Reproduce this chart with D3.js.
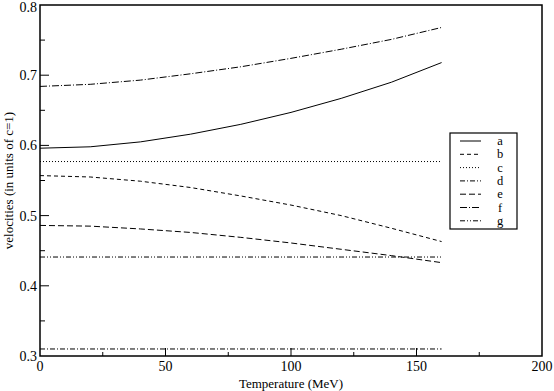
<!DOCTYPE html>
<html><head><meta charset="utf-8">
<script src="https://cdn.jsdelivr.net/npm/d3@7"></script>
<style>body{margin:0;background:#fff}svg{display:block}text{font-family:"Liberation Serif","Times New Roman",serif;fill:#000}</style>
</head><body><svg id="c" width="554" height="391"></svg>
<script>
const temps = [0, 20, 40, 60, 80, 100, 120, 140, 160];
const seriesNames = ["a", "b", "c", "d", "e", "f", "g"];
const aVals = [0.596, 0.598, 0.605, 0.616, 0.630, 0.647, 0.667, 0.690, 0.718];
const bVals = [0.557, 0.555, 0.549, 0.540, 0.528, 0.515, 0.500, 0.482, 0.463];
const cVals = [0.577, 0.577, 0.577, 0.577, 0.577, 0.577, 0.577, 0.577, 0.577];
const dVals = [0.310, 0.310, 0.310, 0.310, 0.310, 0.310, 0.310, 0.310, 0.310];
const eVals = [0.486, 0.485, 0.481, 0.476, 0.469, 0.461, 0.452, 0.443, 0.433];
const fVals = [0.684, 0.687, 0.693, 0.702, 0.712, 0.724, 0.737, 0.751, 0.768];
const gVals = [0.441, 0.441, 0.441, 0.441, 0.441, 0.441, 0.441, 0.441, 0.441];
const xTicks = [0, 50, 100, 150, 200];
const yTicks = [0.3, 0.4, 0.5, 0.6, 0.7, 0.8];
const xLabel = "Temperature (MeV)";
const yLabel = "velocities (in units of c=1)";

const dashes = {a:null, b:"4,3", c:"1,2", d:"5,2,1,2", e:"6,3", f:"7,2,1,2", g:"5,2,1,2,1,2"};
const allVals = [aVals,bVals,cVals,dVals,eVals,fVals,gVals];

const svg = d3.select("#c");
const L=40, R=542, T=5, B=356;
const x = d3.scaleLinear().domain([0,200]).range([L,R]);
const y = d3.scaleLinear().domain([0.3,0.8]).range([B,T]);

// frame
svg.append("rect").attr("x",L).attr("y",T).attr("width",R-L).attr("height",B-T)
  .attr("fill","none").attr("stroke","#000").attr("stroke-width",1.5);

// ticks
const minorX = d3.range(25,200,50), minorY = d3.range(0.35,0.8,0.1);
xTicks.forEach(v=>{ if(v>0&&v<200) svg.append("line").attr("x1",x(v)).attr("x2",x(v)).attr("y1",B).attr("y2",B-8).attr("stroke","#000");});
minorX.forEach(v=>svg.append("line").attr("x1",x(v)).attr("x2",x(v)).attr("y1",B).attr("y2",B-4).attr("stroke","#000"));
yTicks.forEach(v=>{ if(v>0.3&&v<0.8) svg.append("line").attr("x1",L).attr("x2",L+9).attr("y1",y(v)).attr("y2",y(v)).attr("stroke","#000");});
minorY.forEach(v=>svg.append("line").attr("x1",L).attr("x2",L+5).attr("y1",y(v)).attr("y2",y(v)).attr("stroke","#000"));

// tick labels
xTicks.forEach(v=>svg.append("text").attr("x",x(v)).attr("y",B+15).attr("text-anchor","middle").attr("font-size",14).text(v));
yTicks.forEach(v=>svg.append("text").attr("x",L-3).attr("y",y(v)+ (v===0.8?7:5)).attr("text-anchor","end").attr("font-size",14).text(v.toFixed(1)));

// axis labels
svg.append("text").attr("x",(L+R)/2).attr("y",388).attr("text-anchor","middle").attr("font-size",13).text(xLabel);
svg.append("text").attr("transform",`translate(13,${(T+B)/2}) rotate(-90)`).attr("text-anchor","middle").attr("font-size",13).text(yLabel);

// lines
const line = d3.line().x((d,i)=>x(temps[i])).y(d=>y(d));
seriesNames.forEach((n,k)=>{
  svg.append("path").attr("d",line(allVals[k])).attr("fill","none").attr("stroke","#000")
    .attr("stroke-width",1).attr("stroke-dasharray",dashes[n]);
});

// legend
const lg = svg.append("g");
lg.append("rect").attr("x",450).attr("y",133).attr("width",67).attr("height",96).attr("fill","#fff").attr("stroke","#000").attr("stroke-width",1.2);
seriesNames.forEach((n,k)=>{
  const yy = 141 + k*13.3;
  lg.append("line").attr("x1",460).attr("x2",481).attr("y1",yy).attr("y2",yy).attr("stroke","#000").attr("stroke-dasharray",dashes[n]);
  lg.append("text").attr("x",500).attr("y",yy+4).attr("text-anchor","middle").attr("font-size",12.5).text(n);
});
</script></body></html>
